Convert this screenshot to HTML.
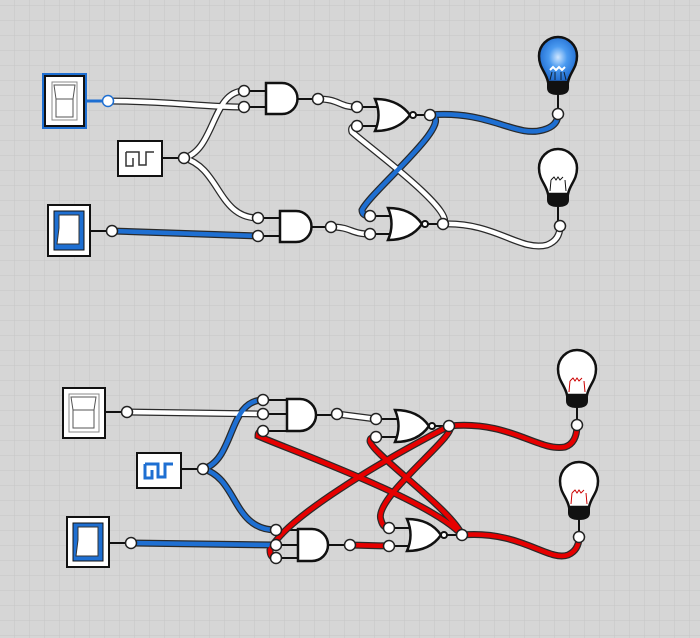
<!DOCTYPE html>
<html><head><meta charset="utf-8"><style>
html,body{margin:0;padding:0;background:#d6d6d6}
svg{display:block}
</style></head><body>
<svg width="700" height="638" viewBox="0 0 700 638" xmlns="http://www.w3.org/2000/svg">
<defs>
<pattern id="g" x="0" y="6" width="15" height="15" patternUnits="userSpaceOnUse">
<path d="M15 0V15M0 15H15" stroke="#c6c6c6" stroke-width="1" fill="none"/>
</pattern>
<radialGradient id="bg" cx="0.5" cy="0.45" r="0.6">
<stop offset="0" stop-color="#cfe6ff"/><stop offset="0.4" stop-color="#4a9af0"/><stop offset="1" stop-color="#1560c8"/>
</radialGradient>
<g id="bulb">
<path d="M-10 22 C-12 12 -19 8 -19 -4 A19 19 0 0 1 19 -4 C19 8 12 12 10 22 Z" stroke="#111" stroke-width="2.5"/>
<path d="M-11 22 H11 V28 Q11 35 0 35 Q-11 35 -11 28 Z" fill="#111"/>
<line x1="0" y1="35" x2="0" y2="52" stroke="#111" stroke-width="2"/>
</g>
</defs>
<rect width="700" height="638" fill="#d6d6d6"/>
<rect width="700" height="638" fill="url(#g)"/>

<use href="#bulb" x="558" y="60" fill="url(#bg)"/>
<path d="M552 72 L550 80 M555 72 L555 80 M561 72 L561 80 M564 72 L566 80" stroke="#123" stroke-width="1"/>
<path d="M550 70 l3 -3 l3 3 l3 -3 l3 3 l3 -3" stroke="#fff" stroke-width="2" fill="none"/>
<use href="#bulb" x="558" y="172" fill="#fff"/>
<path d="M551 180 l3 -3 l2 3 l2 -3 l2 3 l3 -3 M551 180 L550 191 M565 180 L566 191" stroke="#111" stroke-width="1" fill="none"/>
<use href="#bulb" x="577" y="373" fill="#fff"/>
<path d="M570 381 l3 -3 l2 3 l2 -3 l2 3 l3 -3 M570 381 L569 392 M584 381 L585 392" stroke="#c00" stroke-width="1" fill="none"/>
<use href="#bulb" x="579" y="485" fill="#fff"/>
<path d="M572 493 l3 -3 l2 3 l2 -3 l2 3 l3 -3 M572 493 L571 504 M586 493 L587 504" stroke="#c00" stroke-width="1" fill="none"/>

<g stroke="#111" stroke-width="2">
<path d="M244 91H268M244 107H268M297 99H318"/>
<path d="M258 218H282M258 236H282M311 227H331"/>
<path d="M357 107H378M357 126H378M416 115H430"/>
<path d="M370 216H391M370 234H391M428 224H443"/>
<path d="M263 400H289M263 414H289M263 431H289M315 415H337"/>
<path d="M276 530H300M276 545H300M276 558H300M328 545H350"/>
<path d="M376 419H397M376 437H397M435 426H449"/>
<path d="M389 528H410M389 546H410M447 535H462"/>
</g>

<g fill="none" stroke="#2a2a2a" stroke-width="7" stroke-linecap="round">
<path id="w1" d="M108 101 C170 101 200 107 244 107"/>
<path id="w2" d="M184 158 C215 150 212 91 244 91"/>
<path id="w3" d="M184 158 C220 168 218 218 258 218"/>
<path id="w4" d="M112 231 L258 236"/>
<path id="w5" d="M318 99 C340 99 338 107 357 107"/>
<path id="w6" d="M331 227 C352 227 350 234 370 234"/>
<path id="w9" d="M443 224 C458 212 362 142 352 132 Q350 126 357 126"/>
<path id="w10" d="M443 224 C495 222 520 252 547 245 Q560 240 560 226"/>
<path id="w7" d="M430 115 C490 110 515 138 543 130 Q558 126 558 114"/>
<path id="w8" d="M430 115 C458 120 372 190 362 210 Q362 216 370 216"/>
<path id="b1" d="M127 412 L263 414"/>
<path id="b2" d="M203 469 C235 460 228 400 263 400"/>
<path id="b3" d="M203 469 C238 478 232 530 276 530"/>
<path id="b4" d="M131 543 L276 545"/>
<path id="b5" d="M337 414 L376 419"/>
<path id="b6" d="M350 545 L389 546"/>
<path id="b7" d="M449 426 C510 420 538 452 565 447 Q577 443 577 425"/>
<path id="b8" d="M449 426 C462 432 372 498 381 520 Q383 528 389 528"/>
<path id="b9" d="M449 426 C380 462 285 518 270 550 Q270 558 276 558"/>
<path id="b10" d="M462 535 C520 530 548 562 568 555 Q579 550 579 537"/>
<path id="b11" d="M462 535 C452 510 370 452 370 441 Q370 437 376 437"/>
<path id="b12" d="M462 535 C430 500 290 450 258 436 Q258 431 263 431"/>
</g>
<g fill="none" stroke-width="4.5" stroke-linecap="round">
<g stroke="#fff"><use href="#w1"/><use href="#w2"/><use href="#w3"/><use href="#w5"/><use href="#w6"/><use href="#w9"/><use href="#w10"/><use href="#b1"/><use href="#b5"/></g>
<g stroke="#1e6fd2"><use href="#w4"/><use href="#w7"/><use href="#w8"/><use href="#b2"/><use href="#b3"/><use href="#b4"/></g>
<g stroke="#e60000"><use href="#b6"/><use href="#b7"/><use href="#b8"/><use href="#b9"/><use href="#b10"/><use href="#b11"/><use href="#b12"/></g>
</g>

<g fill="#fff" stroke="#111" stroke-width="2.5">
<path d="M266 83 H282 A15.5 15.5 0 0 1 282 114 H266 Z"/>
<path d="M280 211 H296 A15.5 15.5 0 0 1 296 242 H280 Z"/>
<path d="M287 399 H300 A16 16 0 0 1 300 431 H287 Z"/>
<path d="M298 529 H312 A16 16 0 0 1 312 561 H298 Z"/>
<path d="M375 99 Q382 115 375 131 Q398 131 410 115 Q398 99 375 99 Z"/>
<path d="M388 208 Q395 224 388 240 Q411 240 422 224 Q411 208 388 208 Z"/>
<path d="M395 410 Q402 426 395 442 Q418 442 429 426 Q418 410 395 410 Z"/>
<path d="M407 519 Q414 535 407 551 Q430 551 441 535 Q430 519 407 519 Z"/>
<circle cx="413" cy="115" r="3" stroke-width="2"/><circle cx="425" cy="224" r="3" stroke-width="2"/>
<circle cx="432" cy="426" r="3" stroke-width="2"/><circle cx="444" cy="535" r="3" stroke-width="2"/>
</g>

<g stroke-width="2">
<rect x="43" y="74" width="43" height="54" fill="#fff" stroke="#1e6fd2"/>
<rect x="45" y="76" width="39" height="50" fill="none" stroke="#111"/>
<rect x="52" y="82" width="25" height="38" fill="#fff" stroke="#888" stroke-width="1"/>
<path d="M54 85 H75 L73 99 H56 Z M56 99 V117 H73 V99" fill="#fff" stroke="#555" stroke-width="1"/>
<line x1="86" y1="101" x2="108" y2="101" stroke="#1e6fd2" stroke-width="3"/>

<rect x="48" y="205" width="42" height="51" fill="#fff" stroke="#111"/>
<rect x="54" y="211" width="30" height="39" fill="#1e6fd2" stroke="#111" stroke-width="1"/>
<path d="M59 215 H79 V244 H59 Z" fill="#fff" stroke="#333" stroke-width="1"/>
<path d="M59 228 L57 244 H79 L79 228" fill="#fff" stroke="#333" stroke-width="1"/>
<line x1="90" y1="231" x2="112" y2="231" stroke="#111"/>

<rect x="118" y="141" width="44" height="35" fill="#fff" stroke="#111"/>
<path d="M126 152 H139 V165 H146 V152 H154 M126 152 V166 H133 V158" fill="none" stroke="#333" stroke-width="1.5"/>
<line x1="162" y1="158" x2="184" y2="158" stroke="#111"/>

<rect x="63" y="388" width="42" height="50" fill="#fff" stroke="#111"/>
<rect x="69" y="394" width="30" height="38" fill="#fff" stroke="#888" stroke-width="1"/>
<path d="M71 397 H96 L94 410 H73 Z M73 410 V428 H94 V410" fill="#fff" stroke="#555" stroke-width="1"/>
<line x1="105" y1="412" x2="127" y2="412" stroke="#111"/>

<rect x="67" y="517" width="42" height="50" fill="#fff" stroke="#111"/>
<rect x="73" y="523" width="30" height="38" fill="#1e6fd2" stroke="#111" stroke-width="1"/>
<path d="M78 527 H98 V556 H78 Z" fill="#fff" stroke="#333" stroke-width="1"/>
<path d="M78 540 L76 556 H98 L98 540" fill="#fff" stroke="#333" stroke-width="1"/>
<line x1="109" y1="543" x2="131" y2="543" stroke="#111"/>

<rect x="137" y="453" width="44" height="35" fill="#fff" stroke="#111"/>
<path d="M145 464 H158 V477 H165 V464 H173 M145 464 V478 H152 V470" fill="none" stroke="#1e6fd2" stroke-width="3"/>
<line x1="181" y1="469" x2="203" y2="469" stroke="#111"/>
</g>

<g fill="#fff" stroke="#222" stroke-width="1.5">
<circle cx="108" cy="101" r="5.5" stroke="#1e6fd2"/><circle cx="184" cy="158" r="5.5"/><circle cx="112" cy="231" r="5.5"/>
<circle cx="244" cy="91" r="5.5"/><circle cx="244" cy="107" r="5.5"/><circle cx="318" cy="99" r="5.5"/>
<circle cx="258" cy="218" r="5.5"/><circle cx="258" cy="236" r="5.5"/><circle cx="331" cy="227" r="5.5"/>
<circle cx="357" cy="107" r="5.5"/><circle cx="357" cy="126" r="5.5"/><circle cx="430" cy="115" r="5.5"/>
<circle cx="370" cy="216" r="5.5"/><circle cx="370" cy="234" r="5.5"/><circle cx="443" cy="224" r="5.5"/>
<circle cx="558" cy="114" r="5.5"/><circle cx="560" cy="226" r="5.5"/>
<circle cx="127" cy="412" r="5.5"/><circle cx="203" cy="469" r="5.5"/><circle cx="131" cy="543" r="5.5"/>
<circle cx="263" cy="400" r="5.5"/><circle cx="263" cy="414" r="5.5"/><circle cx="263" cy="431" r="5.5"/><circle cx="337" cy="414" r="5.5"/>
<circle cx="276" cy="530" r="5.5"/><circle cx="276" cy="545" r="5.5"/><circle cx="276" cy="558" r="5.5"/><circle cx="350" cy="545" r="5.5"/>
<circle cx="376" cy="419" r="5.5"/><circle cx="376" cy="437" r="5.5"/><circle cx="449" cy="426" r="5.5"/>
<circle cx="389" cy="528" r="5.5"/><circle cx="389" cy="546" r="5.5"/><circle cx="462" cy="535" r="5.5"/>
<circle cx="577" cy="425" r="5.5"/><circle cx="579" cy="537" r="5.5"/>
</g>
</svg>
</body></html>
